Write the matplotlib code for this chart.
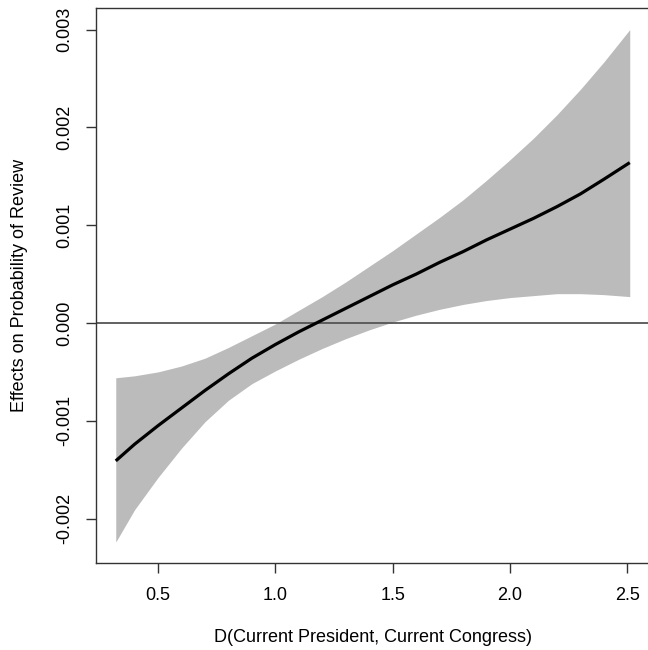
import matplotlib
matplotlib.use("Agg")
import matplotlib.pyplot as plt

plt.rcParams['font.family'] = ['Liberation Sans', 'DejaVu Sans']

# Data
x_vals = [0.32, 0.40, 0.50, 0.60, 0.70, 0.80, 0.90, 1.00, 1.10, 1.20, 1.30, 1.40,
          1.50, 1.60, 1.70, 1.80, 1.90, 2.00, 2.10, 2.20, 2.30, 2.40, 2.51]
effect = [-0.00141, -0.00124, -0.00105, -0.00087, -0.00069, -0.00052, -0.00036, -0.00022,
          -0.00009, 0.00003, 0.00015, 0.00027, 0.00039, 0.00050, 0.00062, 0.00073,
          0.00085, 0.00096, 0.00107, 0.00119, 0.00132, 0.00147, 0.00164]
upper = [-0.00056, -0.00054, -0.00050, -0.00044, -0.00036, -0.00025, -0.00013, -0.00001,
         0.00013, 0.00027, 0.00042, 0.00058, 0.00074, 0.00091, 0.00108, 0.00126,
         0.00146, 0.00167, 0.00189, 0.00213, 0.00239, 0.00267, 0.00300]
lower = [-0.00224, -0.00191, -0.00158, -0.00128, -0.00101, -0.00079, -0.00062, -0.00049,
         -0.00037, -0.00026, -0.00016, -0.00007, 0.00001, 0.00008, 0.00014, 0.00019,
         0.00023, 0.00026, 0.00028, 0.00030, 0.00030, 0.00029, 0.00027]

x_ticks = [0.5, 1.0, 1.5, 2.0, 2.5]
x_ticklabels = ["0.5", "1.0", "1.5", "2.0", "2.5"]
y_ticks = [-0.002, -0.001, 0.0, 0.001, 0.002, 0.003]
y_ticklabels = ["-0.002", "-0.001", "0.000", "0.001", "0.002", "0.003"]

W, H = 648, 650
fig = plt.figure(figsize=(W / 100, H / 100), dpi=100)
left, right, top, bottom = 96, 651, 8, 563
ax = fig.add_axes([left / W, (H - bottom) / H, (right - left) / W, (bottom - top) / H])

ax.fill_between(x_vals, lower, upper, color="#BBBBBB", linewidth=0, zorder=1)
ax.axhline(0, color="#555555", linewidth=1.3, zorder=2)
ax.plot(x_vals, effect, color="black", linewidth=2.3, zorder=3,
        solid_capstyle="butt", solid_joinstyle="round")

ax.set_xlim(0.2358, 2.6006)
ax.set_ylim(-0.002454, 0.003221)

ax.set_xticks(x_ticks)
ax.set_xticklabels(x_ticklabels)
ax.set_yticks(y_ticks)
ax.set_yticklabels(y_ticklabels, rotation=90, va="center")

ax.tick_params(axis="both", direction="out", length=7.5, width=1, color="#333333",
               labelsize=13)
ax.tick_params(axis="x", pad=10)
ax.tick_params(axis="y", pad=9)

for s in ax.spines.values():
    s.set_color("#333333")
    s.set_linewidth(1)

ax.set_xlabel("D(Current President, Current Congress)", fontsize=13)
ax.set_ylabel("Effects on Probability of Review", fontsize=13)
ax.xaxis.set_label_coords(373 / W, 1 - 637 / H, transform=fig.transFigure)
ax.yaxis.set_label_coords(20 / W, 1 - 285.5 / H, transform=fig.transFigure)
ax.xaxis.label.set_va("center")
ax.yaxis.label.set_va("center")

fig.savefig("out.png", dpi=100)
